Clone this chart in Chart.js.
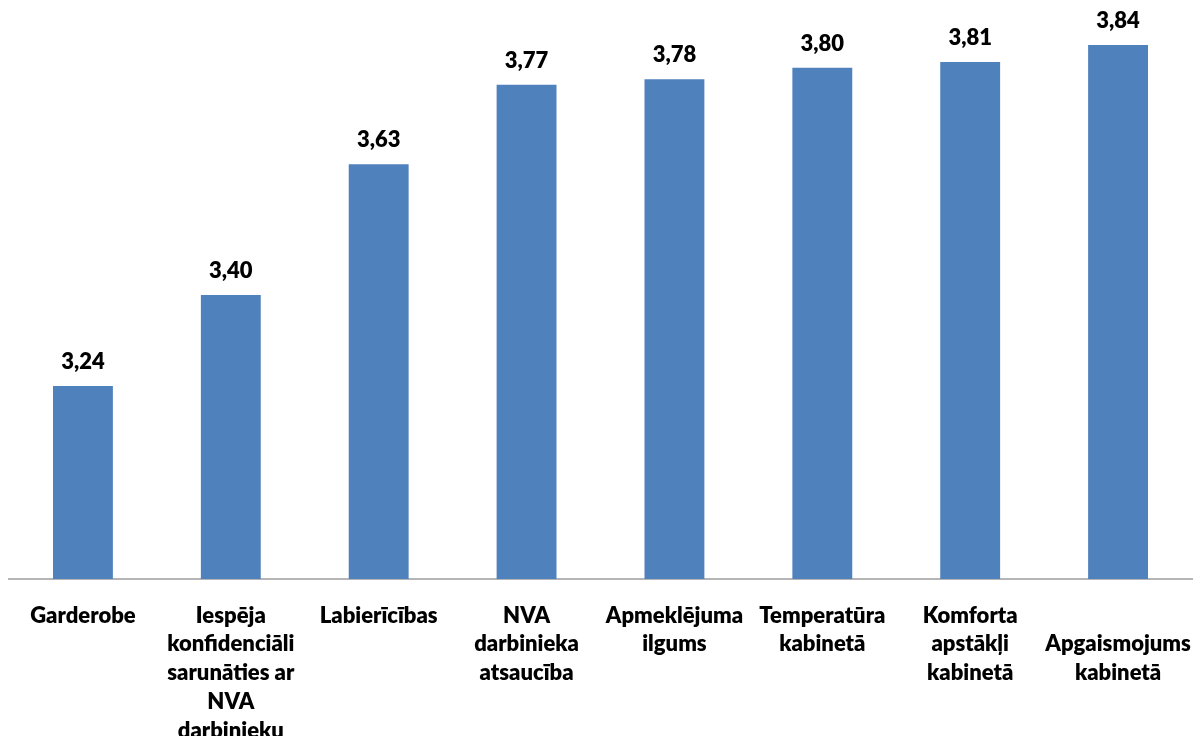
<!DOCTYPE html>
<html>
<head>
<meta charset="utf-8">
<script src="https://cdn.jsdelivr.net/npm/chart.js@4"></script>
<style>
  html, body { margin: 0; padding: 0; background: #fff; }
  #wrap { width: 1198px; height: 736px; position: relative; }
</style>
</head>
<body>
<div id="wrap"><canvas id="c"></canvas></div>
<script>
// Vērtējumi pa kategorijām (vidējie rādītāji)
const categories = [
  ['Garderobe'],
  ['Iespēja', 'konfidenciāli', 'sarunāties ar', 'NVA', 'darbinieku'],
  ['Labierīcības'],
  ['NVA', 'darbinieka', 'atsaucība'],
  ['Apmeklējuma', 'ilgums'],
  ['Temperatūra', 'kabinetā'],
  ['Komforta', 'apstākļi', 'kabinetā'],
  ['', 'Apgaismojums', 'kabinetā']
];
const scores = [3.24, 3.40, 3.63, 3.77, 3.78, 3.80, 3.81, 3.84];
const axisMin = 2.9;
const axisMax = 3.9;

const FONT = 'Lato, "Open Sans", "DejaVu Sans", sans-serif';

// Vērtību uzraksti virs stabiņiem
const valueLabels = {
  id: 'valueLabels',
  afterDatasetsDraw(chart) {
    const ctx = chart.ctx;
    const meta = chart.getDatasetMeta(0);
    ctx.save();
    ctx.font = '800 22px ' + FONT;
    ctx.fillStyle = '#000';
    ctx.textAlign = 'center';
    ctx.textBaseline = 'bottom';
    meta.data.forEach((bar, i) => {
      const txt = scores[i].toFixed(2).replace('.', ',');
      ctx.fillText(txt, bar.x, bar.y - 13);
    });
    ctx.restore();
  }
};

new Chart(document.getElementById('c'), {
  type: 'bar',
  data: {
    labels: categories,
    datasets: [{
      data: scores,
      backgroundColor: '#4f81bd',
      borderWidth: 0,
      barPercentage: 0.405,
      categoryPercentage: 1.0
    }]
  },
  options: {
    responsive: true,
    maintainAspectRatio: false,
    animation: false,
    layout: { padding: { left: 9, right: 6, top: 11, bottom: 0 } },
    plugins: {
      legend: { display: false },
      tooltip: { enabled: false }
    },
    scales: {
      y: {
        display: false,
        min: axisMin,
        max: axisMax
      },
      x: {
        grid: { display: false, drawTicks: false },
        border: { display: true, color: '#b5b5b5', width: 2 },
        ticks: {
          color: '#000',
          padding: 22,
          maxRotation: 0,
          autoSkip: false,
          font: { family: FONT, size: 22, weight: '800', lineHeight: 1.31 }
        },
        afterFit(scale) {
          scale.height = 157;
          scale.paddingLeft = 0;
          scale.paddingRight = 0;
        }
      }
    }
  },
  plugins: [valueLabels]
});
</script>
</body>
</html>
